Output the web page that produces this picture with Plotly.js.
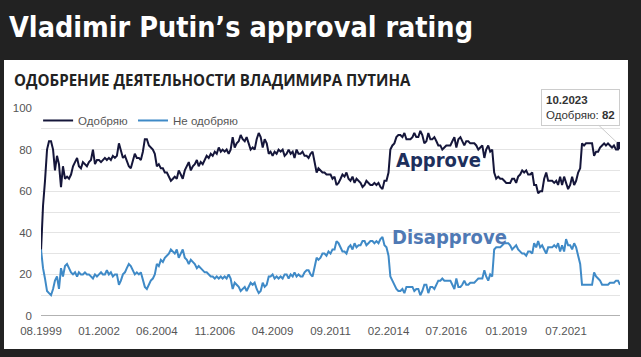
<!DOCTYPE html>
<html>
<head>
<meta charset="utf-8">
<script src="https://cdn.plot.ly/plotly-3.0.1.min.js"></script>
<style>html,body{margin:0;padding:0;background:#222;}#chart{width:641px;height:357px;}</style>
</head>
<body>
<div id="chart"></div>
<script>
// Monthly series, starting 08.1999, ending 10.2023
const startYear = 1999, startMonth = 8;
const approve = [
  31, 53, 65, 80, 84,
  84, 80, 70, 77, 73, 62, 72, 66, 67, 66, 68, 72,
  74, 76, 72, 71, 74, 73, 72, 74, 75, 80, 73, 75,
  75, 74, 75, 76, 75, 76, 75, 77, 76, 77, 83, 80,
  76, 77, 75, 72, 71, 75, 78, 76, 76, 75, 79, 85,
  85, 82, 81, 80, 78, 72, 73, 71, 71, 69, 69, 67,
  65, 66, 67, 66, 70, 68, 66, 70, 72, 74, 70, 72,
  73, 75, 72, 74, 73, 75, 77, 76, 78, 77, 79, 78,
  81, 79, 80, 79, 80, 78, 80, 86, 81, 83, 84, 87,
  85, 84, 86, 83, 80, 81, 80, 85, 88, 86, 81, 85,
  83, 78, 79, 77, 79, 78, 80, 79, 80, 77, 78, 80,
  78, 79, 76, 80, 78, 78, 79, 77, 77, 76, 78, 79,
  73, 69, 71, 70, 69, 69, 68, 68, 68, 66, 67, 63,
  64, 66, 68, 67, 69, 66, 65, 67, 64, 66, 65, 64,
  62, 63, 65, 64, 63, 63, 64, 63, 64, 62, 61, 65,
  65, 69, 80, 82, 83, 86, 87, 87, 86, 88, 85, 85,
  85, 86, 88, 86, 86, 89, 87, 83, 84, 88, 85, 85,
  86, 84, 82, 82, 80, 81, 82, 82, 82, 84, 86, 81,
  85, 86, 84, 82, 84, 84, 83, 83, 83, 82, 80, 81,
  82, 76, 80, 82, 79, 80, 69, 66, 67, 66, 66, 65,
  64, 64, 64, 66, 66, 64, 67, 68, 70, 69, 70, 68,
  68, 69, 63, 63, 59, 60, 60, 66, 69, 65, 65, 65,
  64, 65, 63, 67, 63, 67, 64, 61, 63, 67, 63, 65,
  69, 71, 83, 82, 83, 83, 83, 83, 77, 79, 79, 81,
  82, 83, 82, 83, 82, 81, 82, 80, 80, 82
];
const disapprove = [
  32, 23, 18, 12, 11,
  10, 13, 17, 19, 13, 23, 19, 24, 25, 23, 21, 20,
  21, 19, 21, 20, 20, 21, 20, 20, 19, 18, 20, 19,
  20, 21, 20, 20, 22, 20, 21, 19, 20, 20, 15, 17,
  20, 21, 23, 25, 24, 22, 20, 21, 20, 21, 17, 14,
  13, 15, 17, 18, 20, 25, 24, 27, 26, 28, 29, 30,
  32, 31, 30, 32, 28, 30, 32, 28, 27, 25, 27, 26,
  25, 23, 24, 23, 22, 21, 21, 20, 19, 19, 18, 19,
  18, 19, 18, 19, 18, 20, 18, 13, 16, 15, 14, 12,
  13, 14, 12, 14, 16, 15, 16, 13, 11, 12, 16, 14,
  15, 19, 19, 20, 18, 19, 18, 19, 18, 20, 20, 18,
  20, 19, 21, 19, 20, 19, 19, 21, 22, 22, 20, 19,
  24, 28, 27, 28, 30, 30, 29, 31, 30, 32, 32, 36,
  35, 33, 31, 31, 30, 33, 34, 32, 35, 33, 34, 34,
  36, 36, 34, 35, 36, 36, 35, 36, 35, 37, 38, 34,
  33, 29, 19, 17, 15, 13, 12, 12, 13, 11, 14, 14,
  14, 14, 12, 13, 13, 10, 12, 15, 15, 11, 14, 14,
  13, 15, 17, 17, 18, 17, 17, 17, 17, 15, 13, 18,
  14, 14, 15, 17, 15, 15, 16, 16, 16, 17, 18, 18,
  18, 22, 19, 17, 20, 19, 32, 33, 33, 33, 34, 35,
  35, 35, 34, 32, 33, 34, 32, 31, 30, 30, 29, 31,
  31, 30, 35, 33, 36, 33, 34, 32, 30, 33, 33, 33,
  34, 33, 35, 31, 34, 31, 37, 34, 34, 32, 35, 33,
  29, 25, 15, 15, 15, 15, 15, 15, 21, 19, 18, 17,
  15, 15, 15, 15, 16, 16, 16, 17, 17, 15
];
const tickDates = ['1999-08-01','2002-01-01','2004-06-01','2006-11-01','2009-04-01','2011-09-01','2014-02-01','2016-07-01','2019-01-01','2021-07-01'];
const tickLabels = ['08.1999','01.2002','06.2004','11.2006','04.2009','09.2011','02.2014','07.2016','01.2019','07.2021'];
const yTicks = [0,10,20,30,40,50,60,70,80,90,100];
const yLabels = ['0','','20','','40','','60','','80','','100'];
const seriesNames = ['Одобряю','Не одобряю'];

function monthDates(n){
  const out=[]; let y=startYear, m=startMonth;
  for(let i=0;i<n;i++){ out.push(y+'-'+String(m).padStart(2,'0')+'-01'); m++; if(m>12){m=1;y++;} }
  return out;
}
const dates = monthDates(approve.length);
const lastIdx = approve.length-1;
const lastDate = dates[lastIdx];
const lastLabel = lastDate.slice(5,7)+'.'+lastDate.slice(0,4);

const navy = '#15163a', blue = '#3f8ac7';
const condensed = '"Liberation Sans Narrow", "DejaVu Sans Condensed", "Arial Narrow", sans-serif';

const traces = [
  {x: dates, y: approve, type:'scatter', mode:'lines', name: seriesNames[0], line:{color:navy, width:2}},
  {x: dates, y: disapprove, type:'scatter', mode:'lines', name: seriesNames[1], line:{color:blue, width:2}},
  {x: [lastDate], y: [approve[lastIdx]], type:'scatter', mode:'markers', showlegend:false,
   marker:{color:navy, size:7, symbol:'square'}}
];

const layout = {
  width: 641, height: 357,
  margin: {l:41, r:21, t:108, b:41},
  paper_bgcolor: '#222222',
  plot_bgcolor: '#ffffff',
  font: {family:'"Liberation Sans", Arial, sans-serif', color:'#555', size:11},
  showlegend: true,
  legend: {orientation:'h', x:-0.005, xanchor:'left', y:0.94, yanchor:'middle', bgcolor:'rgba(0,0,0,0)',
           font:{size:11.5, color:'#555'}, itemwidth:30, tracegroupgap:0},
  xaxis: {type:'date', range:['1999-08-01', lastDate], tickvals: tickDates, ticktext: tickLabels,
          showgrid:false, zeroline:false, showline:false, ticks:'', ticklabelstandoff:6,
          tickfont:{size:11.5, color:'#555'}, fixedrange:true},
  yaxis: {range:[0,100], tickvals: yTicks, ticktext: yLabels, gridcolor:'#e4e4e4', gridwidth:1,
          zeroline:false, showline:false, ticks:'', ticklabelstandoff:8, tickfont:{size:11.5, color:'#555'}},
  shapes: [
    {type:'rect', xref:'paper', yref:'paper', x0:-0.0639, x1:1.0138, y0:-0.1587, y1:1.2308,
     fillcolor:'#ffffff', line:{width:0}, layer:'below'},
    {type:'line', xref:'paper', yref:'y', x0:0, x1:1, y0:0, y1:0, line:{color:'#666', width:1.2}}
  ],
  annotations: [
    {xref:'paper', yref:'paper', x:-0.058, y:1.385, xanchor:'left', yanchor:'middle', showarrow:false,
     text:'<b>Vladimir Putin’s approval rating</b>', font:{family:condensed, size:28.5, color:'#ffffff'}},
    {xref:'paper', yref:'paper', x:-0.05, y:1.135, xanchor:'left', yanchor:'middle', showarrow:false,
     text:'<b>ОДОБРЕНИЕ ДЕЯТЕЛЬНОСТИ ВЛАДИМИРА ПУТИНА</b>', font:{family:'"Open Sans", sans-serif', size:15.1, color:'#222'}},
    {xref:'paper', yref:'paper', x:0.686, y:0.75, xanchor:'center', yanchor:'middle', showarrow:false,
     text:'<b>Approve</b>', font:{family:condensed, size:20, color:'#1d2f5c'}},
    {xref:'paper', yref:'paper', x:0.706, y:0.38, xanchor:'center', yanchor:'middle', showarrow:false,
     text:'<b>Disapprove</b>', font:{family:condensed, size:20, color:'#4f79b4'}},
    {x: lastDate, y: approve[lastIdx], xref:'x', yref:'y', showarrow:true, ax:-40, ay:-38,
     arrowhead:0, arrowcolor:'#cccccc', arrowwidth:1, standoff:4,
     text:'<b>'+lastLabel+'</b><br>'+seriesNames[0]+': <b>'+approve[lastIdx]+'</b>', align:'left',
     bgcolor:'#ffffff', bordercolor:'#cccccc', borderwidth:1, borderpad:4,
     font:{size:11.5, color:'#333'}}
  ]
};

Plotly.newPlot('chart', traces, layout, {staticPlot:true, displayModeBar:false});
</script>
</body>
</html>
